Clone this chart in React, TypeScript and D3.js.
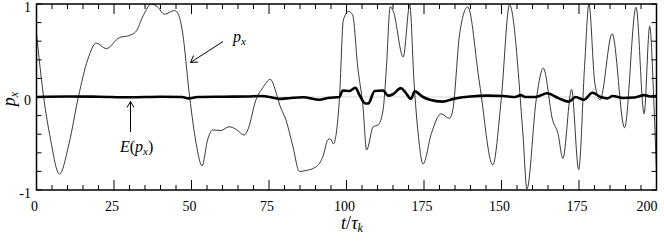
import * as d3 from "d3";

const W = 664;
const H = 241;

// p_x(t)
const pxT = [0, 2.3, 4.5, 7.4, 10.5, 13.5, 16.5, 19.3, 22.5, 26.8, 29.8, 32, 34.5, 37, 39, 41.3, 44.5, 45.6, 47, 49.4, 51.5, 53.4, 55.2, 56.8, 59.5, 62.1, 64.5, 67, 68.2, 70.8, 73, 75.4, 77.7, 78.5, 80.5, 82.7, 84.8, 87, 90.2, 92.4, 94, 94.8, 95.8, 96.7, 97.7, 99, 100.7, 102, 103.6, 105.3, 106.5, 108.6, 110.2, 111.8, 112.9, 114.1, 115.1, 118.3, 120.4, 121.8, 123.1, 124.7, 127.4, 130.5, 133.2, 134.3, 136.5, 139.1, 142.9, 147.2, 149.9, 152.6, 156.9, 158.2, 161.2, 163.5, 166.5, 168.2, 169.8, 172.6, 174.9, 176.8, 178.2, 180.1, 181.8, 185.7, 189.7, 193.4, 196, 197.8, 199.2, 200];
const pxV = [0.68, 0, -0.45, -0.83, -0.5, 0, 0.4, 0.58, 0.52, 0.64, 0.66, 0.7, 0.88, 1.0, 0.97, 0.89, 0.93, 0.9, 0.72, 0, -0.5, -0.74, -0.46, -0.355, -0.36, -0.32, -0.35, -0.41, -0.35, -0.03, 0.1, 0.19, 0, -0.09, -0.25, -0.53, -0.8, -0.79, -0.75, -0.64, -0.46, -0.45, -0.505, -0.39, -0.03, 0.83, 0.92, 0.88, 0.33, -0.1, -0.57, -0.32, -0.3, -0.14, 0.33, 0.97, 0.92, 0.43, 0.99, 0.15, -0.39, -0.72, -0.39, -0.18, -0.23, -0.14, 0.68, 0.97, 0.15, -0.73, -0.03, 0.99, -0.39, -0.99, -0.03, 0.31, -0.25, -0.39, -0.66, 0.08, -0.78, 0.33, 1.0, 0.15, -0.03, 0.68, -0.33, 0.965, -0.18, 0.76, -0.1, -0.82];

// E(p_x)(t)
const eT = [0, 10, 20, 30, 40, 47, 49, 52, 60, 68, 72, 76, 78, 82, 86, 91.3, 94, 97.7, 98.8, 101, 102.9, 104.2, 106.1, 107, 109.1, 111.8, 113.4, 115, 117.5, 119, 120.8, 122, 124.7, 126.9, 131, 134.5, 139.9, 145.3, 150.6, 154.4, 156.2, 157.7, 161, 164.7, 168.5, 171.7, 173.9, 176.6, 179.3, 182, 184.1, 185.9, 189.2, 193, 196.1, 198, 200];
const eV = [0, 0.005, 0.003, -0.003, 0.003, 0, -0.015, 0, 0.003, 0.005, 0.01, -0.005, -0.02, -0.01, -0.003, -0.03, -0.01, 0, 0.07, 0.065, 0.1, 0.02, -0.07, -0.07, 0.065, 0.07, 0.015, 0.03, 0.095, 0.05, -0.02, 0.06, 0, -0.03, -0.05, -0.02, 0.005, 0.015, 0.01, 0, 0.02, 0, 0, 0.04, -0.015, -0.05, 0, -0.03, 0.045, 0, -0.015, 0.01, -0.01, -0.005, 0.02, 0.005, 0.01];

const xTicks = [0, 25, 50, 75, 100, 125, 150, 175, 200];
const xTickLabels = ["0", "25", "50", "75", "100", "175", "150", "175", "200"];
const yTicks = [-1, 0, 1];
const yTickLabels = ["-1", "0", "1"];

const font = "Liberation Serif, DejaVu Serif, serif";

export default function App() {
  const x = d3.scaleLinear([0, 200], [36.5, 656.5]);
  const y = d3.scaleLinear([-1, 1], [190, 4]);

  const line = d3
    .line<[number, number]>()
    .x((d) => x(d[0]))
    .y((d) => y(d[1]))
    .curve(d3.curveMonotoneX);

  const pxPath = line(pxT.map((t, i) => [t, pxV[i]]) as [number, number][]) || "";
  const ePath = line(eT.map((t, i) => [t, eV[i]]) as [number, number][]) || "";

  const minorX = d3.range(0, 201, 5);
  const minorY = d3.range(-1, 1.01, 0.2);

  const [x0, x1] = x.range();
  const [y0, y1] = [y(1), y(-1)];

  return (
    <svg width={W} height={H} style={{ position: "absolute", left: 0, top: 0, fontFamily: font }}>
      <defs>
        <clipPath id="plot">
          <rect x={x0} y={y0} width={x1 - x0} height={y1 - y0} />
        </clipPath>
      </defs>
      <line x1={x0} x2={x1} y1={y(0)} y2={y(0)} stroke="#aaa" strokeWidth={1} strokeDasharray="1,1" />
      <g clipPath="url(#plot)">
        <path d={pxPath} fill="none" stroke="#222" strokeWidth={0.9} />
        <path d={ePath} fill="none" stroke="#000" strokeWidth={2.6} strokeLinejoin="round" />
      </g>
      {/* ticks */}
      {minorX.map((t) => {
        const len = t % 25 === 0 ? 10 : 5;
        return (
          <g key={"xt" + t} stroke="#000" strokeWidth={1}>
            <line x1={x(t)} x2={x(t)} y1={y0} y2={y0 + len} />
            <line x1={x(t)} x2={x(t)} y1={y1} y2={y1 - len} />
          </g>
        );
      })}
      {minorY.map((v, i) => (
        <g key={"yt" + i} stroke="#000" strokeWidth={1}>
          <line x1={x0} x2={x0 + 5} y1={y(v)} y2={y(v)} />
          <line x1={x1} x2={x1 - 5} y1={y(v)} y2={y(v)} />
        </g>
      ))}
      <rect x={x0} y={y0} width={x1 - x0} height={y1 - y0} fill="none" stroke="#000" strokeWidth={1.5} />
      {/* tick labels */}
      {xTicks.map((t, i) => (
        <text
          key={"xl" + t}
          x={i === xTicks.length - 1 ? x(t) + 1 : x(t) - 2}
          y={211}
          fontSize={14}
          textAnchor={i === xTicks.length - 1 ? "end" : "middle"}
        >
          {xTickLabels[i]}
        </text>
      ))}
      {yTicks.map((v, i) => (
        <text key={"yl" + v} x={31} y={y(v) + 8} fontSize={14} textAnchor="end">
          {yTickLabels[i]}
        </text>
      ))}
      {/* axis labels */}
      <text x={352} y={229} fontSize={18} textAnchor="middle">
        <tspan fontStyle="italic">t</tspan>
        <tspan>/</tspan>
        <tspan fontStyle="italic">τ</tspan>
        <tspan fontStyle="italic" fontSize={12} dy={3}>k</tspan>
      </text>
      <text transform="translate(15,99) rotate(-90)" fontSize={18} textAnchor="middle">
        <tspan fontStyle="italic">p</tspan>
        <tspan fontStyle="italic" fontSize={12} dy={3}>x</tspan>
      </text>
      {/* annotations */}
      <g stroke="#000" strokeWidth={1} fill="none">
        <line x1={223} y1={41.5} x2={190.5} y2={62.5} />
        <polyline points="193.5,55.5 190.5,62.5 198,62" />
        <line x1={130.5} y1={132} x2={130.5} y2={101.5} />
        <polyline points="127,107.5 130.5,101.5 134,107.5" />
      </g>
      <text x={233} y={42} fontSize={16}>
        <tspan fontStyle="italic">p</tspan>
        <tspan fontStyle="italic" fontSize={11} dy={3}>x</tspan>
      </text>
      <text x={120} y={152} fontSize={16}>
        <tspan fontStyle="italic">E</tspan>
        <tspan>(</tspan>
        <tspan fontStyle="italic">p</tspan>
        <tspan fontStyle="italic" fontSize={11} dy={3}>x</tspan>
        <tspan dy={-3}>)</tspan>
      </text>
    </svg>
  );
}
